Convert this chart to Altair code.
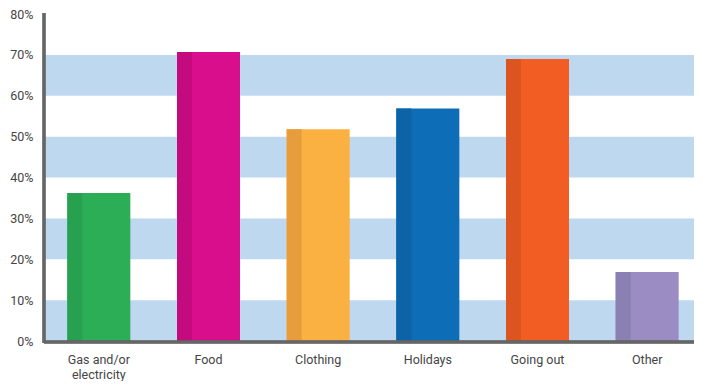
import altair as alt
import pandas as pd

categories = ["Gas and/or electricity", "Food", "Clothing", "Holidays", "Going out", "Other"]
values = [36.2, 70.7, 51.8, 56.9, 69.0, 16.9]
colors = ["#2bae56", "#d80e8d", "#fbb042", "#0d6db6", "#f25d24", "#9c8cc4"]
dark_colors = ["#27a04f", "#c30a7f", "#e79d3b", "#0c63a6", "#dc5520", "#8b80b2"]
band_lo = [0, 20, 40, 60]
band_hi = [10, 30, 50, 70]

W, H = 650, 327
FONT = "Roboto"

df = pd.DataFrame({"cat": categories, "v": [v / 100 for v in values],
                   "c": colors, "d": dark_colors})
bands = pd.DataFrame({"lo": [b / 100 for b in band_lo], "hi": [b / 100 for b in band_hi]})

yscale = alt.Scale(domain=[0, 0.8], nice=False)
xscale = alt.Scale(paddingInner=0, paddingOuter=0, range=[0, 658])

band_layer = alt.Chart(bands).mark_rect(color="#bed8f0").encode(
    x=alt.value(0), x2=alt.value(W),
    y=alt.Y("lo:Q", scale=yscale,
            axis=alt.Axis(format="%", values=[i / 10 for i in range(9)], title=None,
                          grid=False, ticks=False, domain=False, labelPadding=11,
                          labelFont=FONT, labelFontSize=12.5, labelColor="#444")),
    y2="hi:Q",
)

xenc = alt.X("cat:N", sort=categories, scale=xscale,
             axis=alt.Axis(title=None, labelAngle=0, ticks=False, domain=False,
                           labelPadding=12, labelFont=FONT, labelFontSize=12.5,
                           labelLineHeight=15, labelColor="#444",
                           labelExpr="datum.label == 'Gas and/or electricity' ? ['Gas and/or', 'electricity'] : datum.label"))

bars = alt.Chart(df).mark_bar(size=63).encode(
    x=xenc,
    y=alt.Y("v:Q", scale=yscale),
    color=alt.Color("c:N", scale=None),
)
strips = alt.Chart(df).mark_bar(size=15, xOffset=-24).encode(
    x=alt.X("cat:N", sort=categories, scale=xscale),
    y=alt.Y("v:Q", scale=yscale),
    color=alt.Color("d:N", scale=None),
)

xaxis_line = alt.Chart(df).mark_rule(color="#666", strokeWidth=2.5).encode(
    x=alt.value(0), x2=alt.value(W), y=alt.value(H + 1))
yaxis_line = alt.Chart(df).mark_rule(color="#666", strokeWidth=2.5).encode(
    x=alt.value(0), y=alt.value(-1), y2=alt.value(H + 2))

chart = alt.layer(band_layer, bars, strips, xaxis_line, yaxis_line).properties(
    width=W, height=H,
    autosize=alt.AutoSizeParams(type="none"),
    padding={"left": 36, "top": 6, "right": 0, "bottom": 40},
).configure_view(stroke=None)

chart.save("out.html", embed_options={"renderer": "svg", "actions": False})
